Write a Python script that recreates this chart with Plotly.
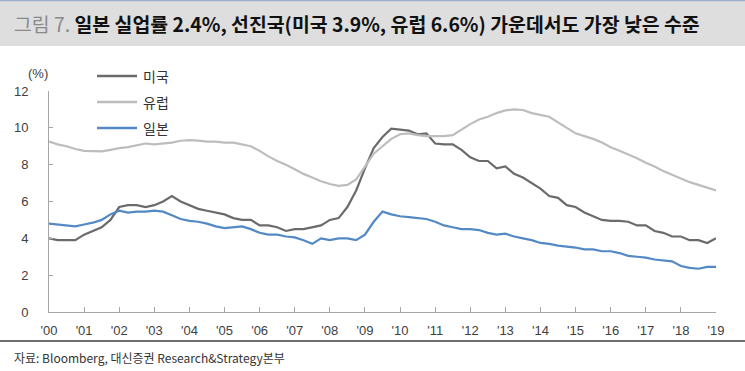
import plotly.graph_objects as go

# quarterly time points (decimal years)
years = [2000 + q * 0.25 for q in range(77)]

us = [4.0, 3.9, 3.9, 3.9, 4.2, 4.4, 4.6, 5.0, 5.7, 5.8, 5.8, 5.7,
      5.8, 6.0, 6.3, 6.0, 5.8, 5.6, 5.5, 5.4, 5.3, 5.1, 5.0, 5.0,
      4.7, 4.7, 4.6, 4.4, 4.5, 4.5, 4.6, 4.7, 5.0, 5.1, 5.7, 6.6,
      7.8, 8.9, 9.5, 9.95, 9.9, 9.85, 9.65, 9.7, 9.15, 9.1, 9.1, 8.8,
      8.4, 8.2, 8.2, 7.8, 7.9, 7.5, 7.3, 7.0, 6.7, 6.3, 6.2, 5.8,
      5.7, 5.4, 5.2, 5.0, 4.95, 4.95, 4.9, 4.7, 4.7, 4.4, 4.3, 4.1,
      4.1, 3.9, 3.9, 3.75, 4.0]

eu = [9.25, 9.1, 9.0, 8.85, 8.75, 8.72, 8.72, 8.8, 8.9, 8.95, 9.05, 9.15,
      9.1, 9.15, 9.2, 9.3, 9.33, 9.3, 9.25, 9.25, 9.2, 9.2, 9.1, 9.0,
      8.75, 8.45, 8.2, 8.0, 7.75, 7.5, 7.3, 7.1, 6.95, 6.85, 6.9, 7.2,
      7.9, 8.6, 9.0, 9.4, 9.65, 9.7, 9.6, 9.55, 9.55, 9.55, 9.6, 9.9,
      10.2, 10.45, 10.6, 10.8, 10.95, 11.0, 10.97, 10.8, 10.7, 10.6, 10.3, 10.0,
      9.7, 9.55, 9.4, 9.2, 8.95, 8.75, 8.55, 8.35, 8.1, 7.9, 7.65, 7.45,
      7.25, 7.05, 6.9, 6.75, 6.6]

jp = [4.8, 4.75, 4.7, 4.65, 4.75, 4.85, 5.0, 5.3, 5.5, 5.4, 5.45, 5.45,
      5.5, 5.45, 5.25, 5.05, 4.95, 4.9, 4.8, 4.65, 4.55, 4.6, 4.65, 4.5,
      4.3, 4.2, 4.2, 4.1, 4.05, 3.9, 3.7, 4.0, 3.9, 4.0, 4.0, 3.9,
      4.2, 4.9, 5.45, 5.3, 5.2, 5.15, 5.1, 5.05, 4.9, 4.7, 4.6, 4.5,
      4.5, 4.45, 4.3, 4.2, 4.25, 4.1, 4.0, 3.9, 3.75, 3.7, 3.6, 3.55,
      3.5, 3.4, 3.4, 3.3, 3.3, 3.2, 3.05, 3.0, 2.95, 2.85, 2.8, 2.75,
      2.5, 2.4, 2.35, 2.45, 2.45]

series_names = ["미국", "유럽", "일본"]
series_colors = ["#6b6b6b", "#bdbdbd", "#5389c4"]
tick_vals = list(range(2000, 2020))
tick_text = ["'%02d" % (y - 2000) for y in tick_vals]
y_ticks = [0, 2, 4, 6, 8, 10, 12]

title_gray = "그림 7."
title_main = "일본 실업률 2.4%, 선진국(미국 3.9%, 유럽 6.6%) 가운데서도 가장 낮은 수준"
source_text = "자료: Bloomberg, 대신증권 Research&Strategy본부"

W, H = 745, 371
L, R, T, B = 49, 29, 91, 59
pw, ph = W - L - R, H - T - B


def px_x(x):
    return (x - L) / pw


def px_y(y):
    return (H - B - y) / ph


fig = go.Figure()
for name, vals, col in zip(series_names, [us, eu, jp], series_colors):
    fig.add_trace(go.Scatter(x=years, y=vals, name=name, mode="lines",
                             line=dict(color=col, width=2.2),
                             showlegend=False))

axis_font = dict(family="Liberation Sans, Arial, sans-serif", size=13, color="#404040")

fig.update_layout(
    width=W, height=H,
    margin=dict(l=L, r=R, t=T, b=B, autoexpand=False),
    paper_bgcolor="white", plot_bgcolor="white",
    showlegend=False,
    xaxis=dict(range=[2000, 2019], tickvals=tick_vals, ticktext=tick_text,
               showgrid=False, zeroline=False, showline=True, linecolor="#a6a6a6",
               linewidth=1, ticks="inside", ticklen=5, tickcolor="#a6a6a6",
               tickfont=axis_font, ticklabelstandoff=6),
    yaxis=dict(range=[0, 12], tickvals=y_ticks, showgrid=False, zeroline=False,
               showline=True, linecolor="#a6a6a6", linewidth=1, ticks="inside",
               ticklen=4, tickcolor="#a6a6a6", tickfont=axis_font,
               ticklabelstandoff=17),
)

# legend drawn as line samples + labels
legend_rows = [76, 102, 128]
for name, col, ry in zip(series_names, series_colors, legend_rows):
    fig.add_shape(type="line", xref="paper", yref="paper",
                  x0=px_x(97), x1=px_x(137), y0=px_y(ry), y1=px_y(ry),
                  line=dict(color=col, width=2.5))
    fig.add_annotation(xref="paper", yref="paper", x=px_x(141), y=px_y(ry),
                       xanchor="left", yanchor="middle", showarrow=False,
                       text=name,
                       font=dict(family="Noto Sans CJK KR", size=14, color="#333333"))

# title bar
fig.add_shape(type="rect", xref="paper", yref="paper",
              x0=px_x(0), x1=px_x(W), y0=px_y(46), y1=px_y(1),
              fillcolor="#dedede", line=dict(width=0), layer="below")
fig.add_shape(type="line", xref="paper", yref="paper",
              x0=px_x(0), x1=px_x(W), y0=px_y(0.5), y1=px_y(0.5),
              line=dict(color="#9db0c9", width=1.5))
fig.add_annotation(xref="paper", yref="paper", x=px_x(12), y=px_y(24),
                   xanchor="left", yanchor="middle", showarrow=False,
                   text="<span style='color:#8a8a8a'>%s</span> <b>%s</b>" % (title_gray, title_main),
                   font=dict(family="Noto Sans CJK KR", size=19.4, color="#111111"))
# unit label
fig.add_annotation(xref="paper", yref="paper", x=px_x(38), y=px_y(73),
                   xanchor="center", yanchor="middle", showarrow=False,
                   text="(%)", font=axis_font)
# bottom separator and source
fig.add_shape(type="line", xref="paper", yref="paper",
              x0=px_x(0), x1=px_x(W), y0=px_y(341), y1=px_y(341),
              line=dict(color="#6e6e6e", width=2))
fig.add_annotation(xref="paper", yref="paper", x=px_x(12), y=px_y(357),
                   xanchor="left", yanchor="middle", showarrow=False,
                   text=source_text,
                   font=dict(family="Noto Sans CJK KR", size=12, color="#333333"))

fig.write_html("out.html", config={"displayModeBar": False},
               post_script="document.body.style.margin='0';document.body.style.overflow='hidden';")
